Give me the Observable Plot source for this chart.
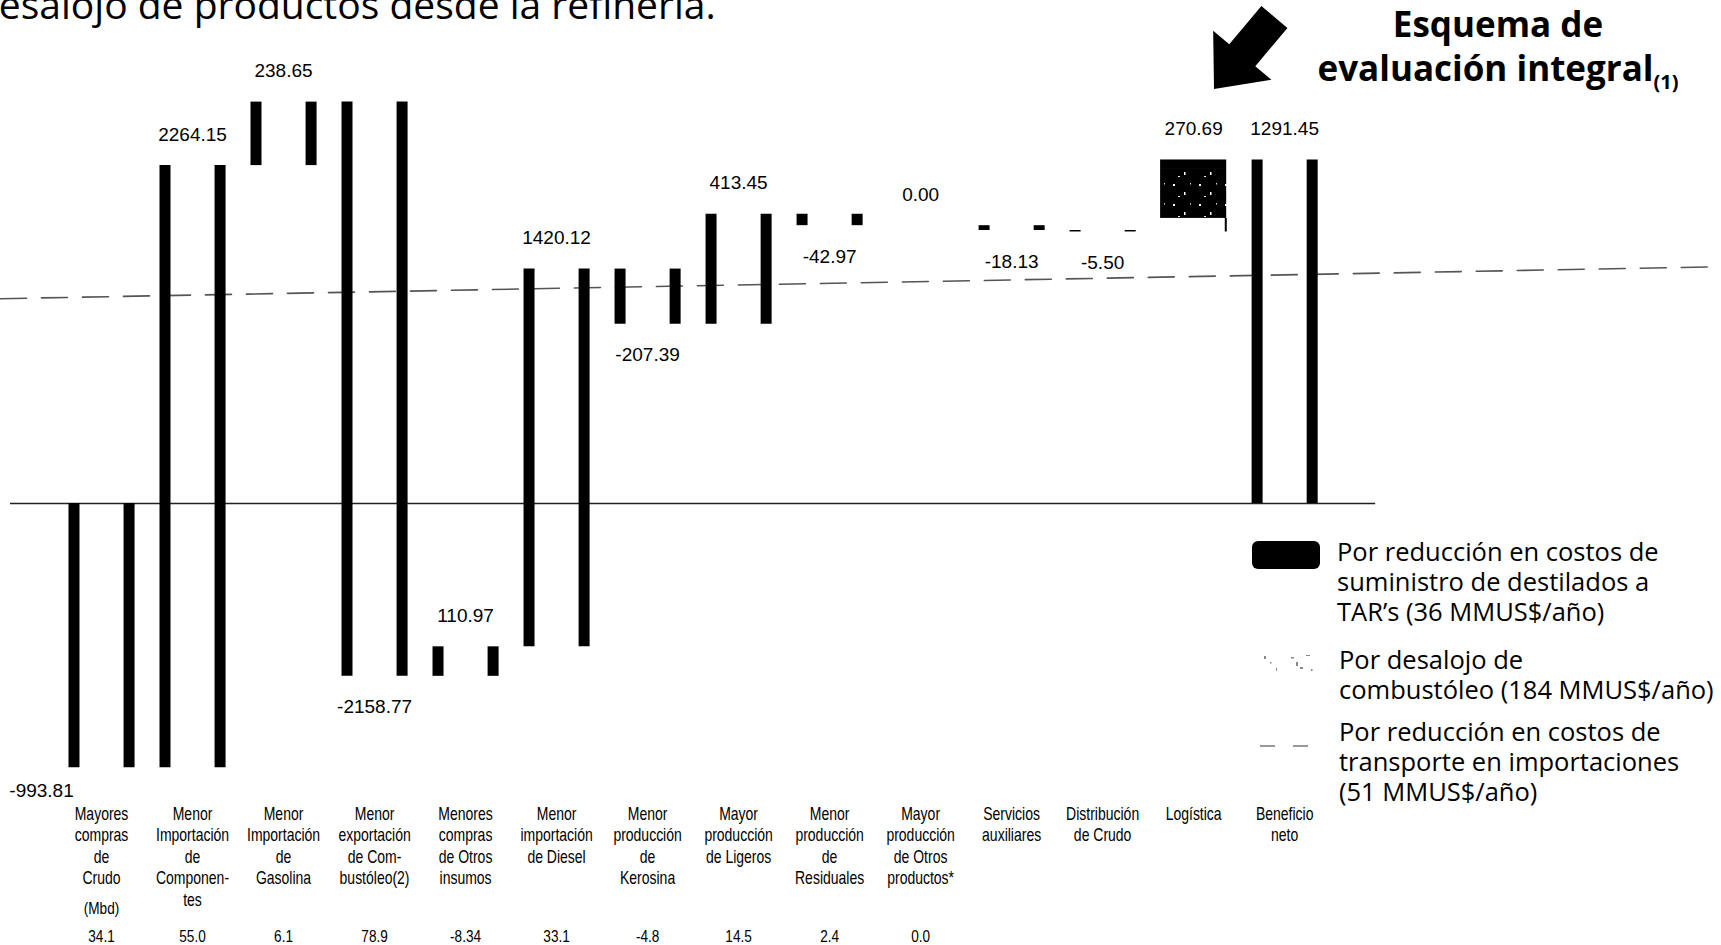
<!DOCTYPE html>
<html><head><meta charset="utf-8">
<script src="https://cdn.jsdelivr.net/npm/d3@7"></script>
<script src="https://cdn.jsdelivr.net/npm/@observablehq/plot@0.6"></script>
<style>
html,body{margin:0;padding:0;background:#fff;overflow:hidden;}
#page{position:relative;width:1721px;height:945px;overflow:hidden;background:#fff;}
#chart{position:absolute;left:0;top:0;}
.t{position:absolute;white-space:nowrap;color:#000;font-family:'Open Sans',sans-serif;}
.leg{font-size:25.5px;line-height:30px;}
</style></head><body>
<div id="page">
<div id="chart"></div>
<svg id="deco" style="position:absolute;left:0;top:0;overflow:visible" width="1721" height="945">
  <defs>
    <pattern id="mottle" width="26" height="20" patternUnits="userSpaceOnUse">
      <rect width="26" height="20" fill="#000"/>
      <rect x="3" y="4" width="2" height="2" fill="#fff"/>
      <rect x="14" y="12" width="1.5" height="3" fill="#fff"/>
      <rect x="20" y="3" width="1" height="1.5" fill="#ddd"/>
      <rect x="8" y="16" width="2" height="1" fill="#eee"/>
    </pattern>
  </defs>
  <polygon transform="translate(1214,89) rotate(130)" fill="#000"
    points="0,0 -44,38 -44,17 -94,17 -94,-17 -44,-17 -44,-38"/>
  <!-- legend swatches -->
  <rect x="1252" y="541" width="68" height="28" rx="6" fill="#000"/>
  <g fill="#888">
    <rect x="1264" y="656" width="2" height="3"/><rect x="1270" y="662" width="1.5" height="1.5"/>
    <rect x="1276" y="668" width="1" height="3"/><rect x="1291" y="657" width="3" height="1.5"/>
    <rect x="1296" y="662" width="2" height="4"/><rect x="1300" y="667" width="3" height="2"/>
    <rect x="1306" y="655" width="4" height="1"/><rect x="1311" y="669" width="1.5" height="2"/>
  </g>
  <line x1="1260" y1="746" x2="1275" y2="746" stroke="#777" stroke-width="1.5"/>
  <line x1="1293" y1="746" x2="1308" y2="746" stroke="#777" stroke-width="1.5"/>
</svg>
<div class="t" style="left:-25px;top:-23px;font-size:39px;line-height:53px;">desalojo de productos desde la refinería.</div>
<div class="t" style="left:1298px;top:2px;width:400px;text-align:center;font-size:35px;line-height:44px;font-weight:700;">Esquema de<br>evaluación integral<sub style="font-size:20px;line-height:0;">(1)</sub></div>
<div class="t leg" style="left:1337px;top:536px;">Por reducción en costos de<br>suministro de destilados a<br>TAR’s (36 MMUS$/año)</div>
<div class="t leg" style="left:1339px;top:644px;">Por desalojo de<br>combustóleo (184 MMUS$/año)</div>
<div class="t leg" style="left:1339px;top:716px;">Por reducción en costos de<br>transporte en importaciones<br>(51 MMUS$/año)</div>
</div>
<script>
// ---- data ----
const categories = [
  "Mayores\ncompras\nde\nCrudo",
  "Menor\nImportación\nde\nComponen-\ntes",
  "Menor\nImportación\nde\nGasolina",
  "Menor\nexportación\nde Com-\nbustóleo(2)",
  "Menores\ncompras\nde Otros\ninsumos",
  "Menor\nimportación\nde Diesel",
  "Menor\nproducción\nde\nKerosina",
  "Mayor\nproducción\nde Ligeros",
  "Menor\nproducción\nde\nResiduales",
  "Mayor\nproducción\nde Otros\nproductos*",
  "Servicios\nauxiliares",
  "Distribución\nde Crudo",
  "Logística",
  "Beneficio\nneto"
];
const changes = [-993.81, 2264.15, 238.65, -2158.77, 110.97, 1420.12, -207.39, 413.45, -42.97, 0.00, -18.13, -5.50, 270.69];
const netBenefit = 1291.45;
const volumes = ["34.1", "55.0", "6.1", "78.9", "-8.34", "33.1", "-4.8", "14.5", "2.4", "0.0"];
const volumeUnit = "(Mbd)";
const logisticaParts = [
  {name: "TAR", value: 36},
  {name: "Combustóleo", value: 184},
  {name: "Transporte", value: 51}
];
const transportLine = [770, 890]; // dashed reference line, value at left and right edge

// ---- derived table ----
let cum = 0;
const bars = categories.map((c, i) => {
  if (i < changes.length) {
    const start = cum; cum += changes[i];
    return {i, c, start, end: cum, value: changes[i]};
  }
  return {i, c, start: 0, end: netBenefit, value: netBenefit};
});
const logIdx = categories.indexOf("Logística");
const stripBars = bars.filter(d => d.i !== logIdx);
const lb = bars[logIdx];
let acc = lb.start;
const segs = [...logisticaParts].reverse().map(p => {
  const s = {i: logIdx, name: p.name, y1: acc, y2: Math.min(acc + p.value, lb.end)};
  acc += p.value; return s;
});
segs[segs.length - 1].y2 = lb.end;

const xDomain = [-1.11, 17.80];
const half = 0.363, sw = 11, swu = sw / 91;
const fmt = v => v.toFixed(2);
const sans = "Liberation Sans, Arial, sans-serif";

const chart = Plot.plot({
  width: 1721, height: 945, margin: 0,
  style: {background: "transparent", overflow: "visible"},
  x: {type: "linear", domain: xDomain, range: [0, 1721], axis: null},
  y: {domain: [-1661.7, 1891], range: [945, 0], axis: null},
  marks: [
    Plot.line(transportLine.map((v, k) => ({x: xDomain[k], y: v})), {x: "x", y: "y", stroke: "#555", strokeWidth: 1.6, strokeDasharray: "26,15"}),
    Plot.ruleY([0], {x1: -1, x2: categories.length, stroke: "#222", strokeWidth: 1.5}),
    Plot.ruleX(stripBars, {x: d => d.i - half + swu / 2, y1: "start", y2: "end", stroke: "#000", strokeWidth: sw}),
    Plot.ruleX(stripBars, {x: d => d.i + half - swu / 2, y1: "start", y2: "end", stroke: "#000", strokeWidth: sw}),
    Plot.rect(segs.filter(s => s.name !== "Transporte"), {
      x1: d => d.i - half, x2: d => d.i + half, y1: "y1", y2: "y2",
      fill: d => d.name === "TAR" ? "#000" : "url(#mottle)"
    }),
    Plot.ruleX(segs.filter(s => s.name === "Transporte"), {x: d => d.i + half - 0.01, y1: "y1", y2: "y2", stroke: "#000", strokeWidth: 2}),
    // value labels
    Plot.text(bars.filter(d => d.value >= 0), {x: "i", y: "end", text: d => fmt(d.value), dy: -31, fontFamily: sans, fontSize: 19, fill: "#000"}),
    Plot.text(bars.filter(d => d.value < 0 && d.i > 0), {x: "i", y: "end", text: d => fmt(d.value), dy: 31, fontFamily: sans, fontSize: 19, fill: "#000"}),
    Plot.text(bars.filter(d => d.i === 0), {x: "i", y: "end", text: d => fmt(d.value), dx: -60, dy: 23, fontFamily: sans, fontSize: 19, fill: "#000"}),
    // category labels (condensed afterwards)
    Plot.text(categories, {x: (d, i) => i, text: d => d, frameAnchor: "top", lineAnchor: "top", dy: 804, lineHeight: 1.23, fontFamily: sans, fontSize: 17.5, fill: "#000", ariaDescription: "cond"}),
    Plot.text([volumeUnit], {x: () => 0, text: d => d, frameAnchor: "top", lineAnchor: "middle", dy: 908, fontFamily: sans, fontSize: 17, fill: "#000", ariaDescription: "cond"}),
    Plot.text(volumes, {x: (d, i) => i, text: d => d, frameAnchor: "top", lineAnchor: "middle", dy: 936, fontFamily: sans, fontSize: 17, fill: "#000", ariaDescription: "cond"})
  ]
});
// condense the label glyphs horizontally (Arial-Narrow look)
d3.select(chart).selectAll('g[aria-description="cond"] text').each(function () {
  const t = this.getAttribute("transform");
  if (t) {
    this.setAttribute("transform", t + " scale(0.8,1)");
  } else {
    const x = +this.getAttribute("x") || 0, y = +this.getAttribute("y") || 0;
    this.removeAttribute("x"); this.removeAttribute("y");
    this.setAttribute("transform", `translate(${x},${y}) scale(0.8,1)`);
  }
});
document.getElementById("chart").appendChild(chart);
</script>
</body></html>
